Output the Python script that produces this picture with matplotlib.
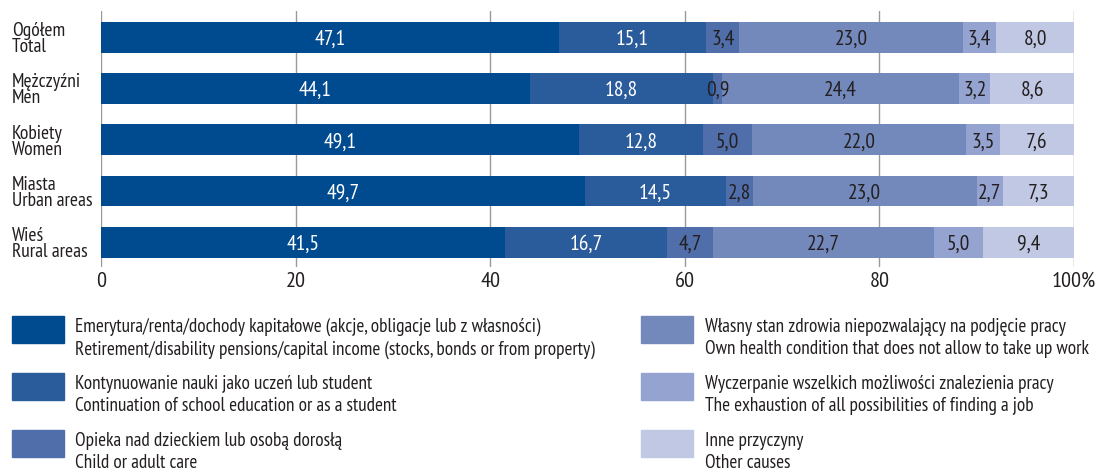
import matplotlib
matplotlib.use("Agg")
import matplotlib.pyplot as plt
from matplotlib.patches import Rectangle
import numpy as np

plt.rcParams['font.family'] = ['PT Sans Narrow', 'Fira Sans Condensed', 'Roboto Condensed', 'Asap Condensed', 'DejaVu Sans']

categories = ["Ogółem\nTotal", "Mężczyźni\nMen", "Kobiety\nWomen", "Miasta\nUrban areas", "Wieś\nRural areas"]
retirement = [47.1, 44.1, 49.1, 49.7, 41.5]
education = [15.1, 18.8, 12.8, 14.5, 16.7]
care = [3.4, 0.9, 5.0, 2.8, 4.7]
health = [23.0, 24.4, 22.0, 23.0, 22.7]
exhaustion = [3.4, 3.2, 3.5, 2.7, 5.0]
other = [8.0, 8.6, 7.6, 7.3, 9.4]
series = [retirement, education, care, health, exhaustion, other]
legend_labels = [
    "Emerytura/renta/dochody kapitałowe (akcje, obligacje lub z własności)\nRetirement/disability pensions/capital income (stocks, bonds or from property)",
    "Kontynuowanie nauki jako uczeń lub student\nContinuation of school education or as a student",
    "Opieka nad dzieckiem lub osobą dorosłą\nChild or adult care",
    "Własny stan zdrowia niepozwalający na podjęcie pracy\nOwn health condition that does not allow to take up work",
    "Wyczerpanie wszelkich możliwości znalezienia pracy\nThe exhaustion of all possibilities of finding a job",
    "Inne przyczyny\nOther causes",
]
xticks = [0, 20, 40, 60, 80, 100]
xticklabels = ["0", "20", "40", "60", "80", "100%"]

colors = ["#004a8f", "#2a5b9b", "#506eaa", "#7389bb", "#94a3cf", "#c1c8e3"]
text_colors = ["white", "white", "#231f20", "#231f20", "#231f20", "#231f20"]
dark = '#231f20'

W, H = 1095, 477
fig = plt.figure(figsize=(W / 100, H / 100), dpi=100)
ax = fig.add_axes([101 / W, 1 - 268 / H, (1074 - 101) / W, (268 - 12) / H])

y = np.arange(len(categories))
left = np.zeros(len(categories))
for vals, c, tc in zip(series, colors, text_colors):
    vals = np.array(vals)
    ax.barh(y, vals, left=left, height=0.6, color=c, edgecolor='none', zorder=3)
    for yi, (l, v) in enumerate(zip(left, vals)):
        ax.text(l + v / 2, yi + 0.02, f"{v:.1f}".replace('.', ','), ha='center', va='center',
                color=tc, fontsize=15.5, zorder=4)
    left += vals

ax.set_xlim(0, 100)
ax.set_ylim(4.48, -0.51)
ax.set_xticks(xticks)
ax.set_xticklabels(xticklabels, fontsize=16, color=dark)
ax.set_yticks(y)
ax.set_yticklabels(categories, fontsize=14, color=dark, linespacing=0.85)
for lab in ax.get_yticklabels():
    lab.set_horizontalalignment('left')
ax.tick_params(axis='y', length=0, pad=(101 - 12) * 0.72)
ax.tick_params(axis='x', length=0, pad=3)
ax.grid(axis='x', color='#9a9a9a', linewidth=1, zorder=1)
for s in ax.spines.values():
    s.set_visible(False)

# legend
rows_y = [317, 374, 431]
for i, (lab, c) in enumerate(zip(legend_labels, colors)):
    col = i // 3
    row = i % 3
    px = 12 if col == 0 else 641
    tx = 75 if col == 0 else 705
    top = rows_y[row]
    fig.add_artist(Rectangle((px / W, 1 - (top + 27) / H), 52 / W, 27 / H,
                             transform=fig.transFigure, color=c))
    fig.text(tx / W, 1 - (top + 1) / H, lab, ha='left', va='top', fontsize=13.9,
             color=dark, linespacing=1.3)

fig.savefig("out.png", dpi=100)
